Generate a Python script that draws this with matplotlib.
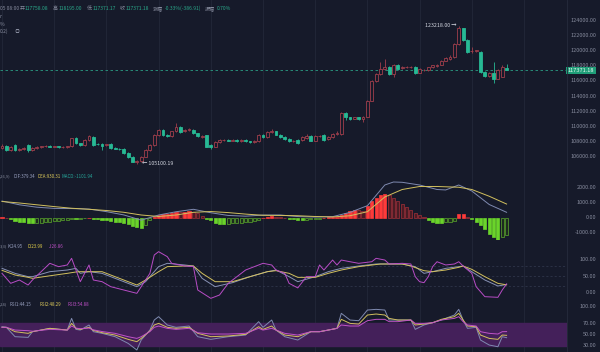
import numpy as np
import matplotlib.pyplot as plt
from matplotlib.patches import Rectangle
from matplotlib.lines import Line2D

plt.rcParams['font.family'] = ['Noto Sans CJK SC', 'DejaVu Sans']

# ---- candles ----
opens = [107200, 107500, 106950, 107600, 106900, 107000, 107550, 106950, 107150, 107300,
         107400, 107500, 107350, 107400, 107250, 107300, 107400, 108450, 107800, 107600,
         108200, 108600, 107750, 107700, 107600, 107700, 107200, 107100, 107100, 106500,
         106000, 105400, 105500, 106050, 106900, 107600, 108900, 109550, 108900, 108700,
         109350, 109980, 109400, 109550, 109600, 109100, 108650, 108850, 107550, 107350,
         108000, 108200, 108200, 108150, 108250, 108100, 108200, 108050, 108000, 108100,
         108900, 108600, 109300, 109350, 108950, 108650, 108400, 108100, 108200, 108230,
         108500, 108760, 108150, 108760, 108900, 108300, 108600, 109020, 109020, 111736,
         111210, 111030, 111210, 110950, 111300, 113400, 116030, 116860, 117560, 117870,
         116860, 118090, 117650, 117780, 117800, 117870, 117080, 117430, 117430, 117780,
         117960, 118130, 118660, 118830, 119090, 120840, 122900, 121400, 119900, 119970,
         119840, 117200, 116640, 117000, 116300, 116550, 117758.08]
closes = [107450, 106950, 107300, 106900, 107000, 107150, 106900, 107150, 107300, 107400,
          107450, 107350, 107400, 107250, 107300, 107400, 108450, 107800, 107600, 108200,
          108700, 107600, 107650, 107500, 107650, 107150, 107100, 107050, 106500, 106000,
          105400, 105500, 106050, 106900, 107600, 108900, 109550, 108900, 108700, 109350,
          109980, 109300, 109600, 109650, 109100, 108700, 108750, 107350, 107350, 108000,
          108200, 108250, 108150, 108250, 108100, 108200, 108050, 108000, 108100, 108900,
          108600, 109300, 109350, 108950, 108650, 108350, 108100, 108150, 107800, 108670,
          108700, 108150, 108760, 108800, 108230, 108600, 109020, 109100, 111736, 111210,
          111030, 111210, 110950, 111210, 113400, 116030, 116860, 117560, 117780, 116860,
          118090, 117560, 117780, 117800, 117870, 117080, 117560, 117480, 117780, 118040,
          118130, 118660, 118960, 119180, 120840, 122900, 121400, 119840, 119970, 119990,
          117200, 116640, 117080, 116300, 117450, 117780, 117371.18]
highs = [107650, 107600, 107400, 107700, 107150, 107250, 107700, 107250, 107400, 107500,
         107550, 107600, 107500, 107500, 107400, 107500, 108550, 108600, 107900, 108300,
         108950, 108700, 107850, 107800, 107750, 107800, 107300, 107200, 107200, 106600,
         106100, 105650, 106150, 107000, 107700, 109000, 109650, 109650, 109000, 109450,
         110420, 110100, 109700, 109800, 109700, 109200, 108850, 108950, 107650, 108100,
         108300, 108350, 108300, 108350, 108350, 108300, 108300, 108150, 108200, 109000,
         109000, 109400, 109700, 109450, 109050, 108750, 108500, 108250, 108300, 108800,
         109000, 108850, 108850, 108950, 109000, 108700, 109100, 109350, 111900, 111850,
         111300, 111300, 111300, 111350, 113500, 116150, 117000, 118520, 118830, 117950,
         118200, 118200, 117900, 117900, 117950, 117950, 117650, 117600, 117850, 118150,
         118250, 118800, 119150, 119400, 120950, 123218.00, 122950, 121550, 120500, 120100,
         119950, 117300, 117200, 118440, 117550, 118100, 118195.00]
lows = [107050, 106850, 106800, 106750, 106800, 106900, 106700, 106850, 107050, 107200,
        107300, 107250, 107250, 107150, 107150, 107200, 107300, 107700, 107500, 107500,
        108100, 107500, 107550, 106900, 107500, 107050, 107000, 106950, 106400, 105900,
        105300, 105100.19, 105400, 105950, 106800, 107500, 108800, 108800, 108600, 108600,
        109250, 109200, 109300, 109450, 109000, 108600, 108550, 107250, 107100, 107250,
        107900, 108100, 108050, 108050, 108000, 108000, 107950, 107900, 107900, 108000,
        108500, 108500, 109200, 108850, 108550, 108250, 108000, 108000, 107700, 108100,
        108400, 108050, 108050, 108650, 108150, 108200, 108500, 108900, 108950, 110800,
        110900, 110950, 110850, 110640, 111200, 113300, 115900, 116750, 117450, 116750,
        116550, 117450, 117550, 117700, 117700, 116950, 116980, 117350, 117350, 117700,
        117850, 118050, 118550, 118750, 118950, 120750, 121300, 119700, 119600, 119850,
        117100, 116500, 116550, 115770, 116200, 116450, 117371.17]

# ---- MACD (12,26,9) ----
macd_hist = [60, 30, -80, -180, -250, -300, -330, -350, -330, -310,
             -290, -260, -230, -200, -160, -110, -40, -60, -40, -20,
             30, -50, -90, -120, -150, -200, -240, -290, -350, -430,
             -520, -620, -690, -450, -150, 60, 200, 260, 290, 350,
             430, 380, 420, 470, 400, 300, 150, -40, -160, -310,
             -380, -400, -380, -360, -340, -310, -280, -250, -200, -140,
             30, 80, 110, 90, 60, 20, -40, -80, -110, -130,
             -120, -100, -70, -40, 30, 40, 40, 60, 200, 350,
             450, 530, 500, 470, 800, 1100, 1350, 1550, 1620, 1500,
             1350, 1150, 950, 750, 550, 350, 180, 60, -150, -250,
             -330, -350, -300, -270, -230, 250, 280, 90, -100, -250,
             -500, -750, -1050, -1300, -1470, -1300, -1101.94]
macd_x = [0, 4, 8, 12, 16, 20, 24, 28, 32, 36, 40, 44, 48, 52, 56, 60, 64, 68,
          72, 76, 80, 84, 88, 90, 92, 96, 100, 102, 105, 108, 112, 116]
dif = [1130, 880, 720, 640, 630, 595, 425, 205, -145, 200, 415, 580, 350, 170, 120, 195, 200, 95,
       65, 90, 375, 820, 2200, 2400, 2380, 2200, 1900, 1870, 2200, 1800, 900, 379.34]
dea = [1100, 1000, 880, 760, 650, 580, 500, 380, 200, 100, 200, 380, 430, 360, 260, 180, 170, 150,
       100, 70, 150, 420, 1400, 1650, 1900, 2100, 2100, 2080, 2050, 1900, 1450, 930.31]

# ---- KDJ (9,3,3) ----
k_x = [0, 3, 6, 7, 11, 15, 17, 18, 20, 23, 27, 31, 33, 36, 38, 42, 44, 46, 49, 53, 57, 61, 63, 66,
       68, 72, 75, 78, 82, 86, 92, 95, 97, 99, 102, 105, 106, 108, 111, 114, 116]
k_val = [72.5, 57.8, 48, 48, 62.7, 67.6, 72.5, 57.8, 62.7, 57.8, 38.2, 18.6, 33.3, 77.5, 87.3,
         82.4, 79.4, 43.1, 18.6, 30.4, 48, 62.7, 67.6, 48, 33.3, 48, 62.7, 72.5, 79.4, 85.3, 85.3,
         77.5, 57.8, 62.7, 72.5, 77.5, 79.4, 62.7, 38.2, 20.6, 24.95]
d_x = [0, 3, 6, 7, 11, 15, 17, 18, 20, 23, 27, 31, 33, 36, 38, 42, 44, 46, 49, 53, 57, 61, 63, 66,
       68, 72, 75, 78, 82, 87, 92, 94, 97, 99, 102, 105, 106, 108, 111, 114, 116]
d_val = [66.7, 52.9, 46.1, 43.1, 50.6, 57.8, 61.8, 62.7, 62.7, 62.7, 43.1, 23.5, 38.2, 62.7, 77.5,
         79.4, 79.4, 57.8, 33.3, 33.3, 48, 62.7, 65.7, 57.8, 46, 46, 57.8, 67.6, 77.5, 85.3, 85.3,
         79.4, 65.7, 62.7, 67.6, 75.5, 79.4, 69.6, 48, 28.4, 23.99]
j_x = [0, 2, 4, 6, 7, 11, 13, 15, 16, 17, 18, 20, 21, 23, 25, 28, 31, 32, 34, 35, 36, 38, 39,
       42, 44, 45, 48, 50, 52, 53, 56, 60, 62, 63, 65, 66, 68, 70, 72, 73, 74, 76, 77, 78, 80,
       82, 85, 86, 88, 89, 92, 94, 95, 96, 97, 98, 99, 100, 102, 104, 105, 106, 108, 109, 111,
       114, 115, 116]
j_val = [57.8, 28.4, 38.2, 23.5, 38.2, 87.3, 77.5, 82.4, 102, 67.6, 33.3, 82.4, 38.2, 33.3, 18.6,
         8.8, -1, 18.6, 57.8, 111.8, 121.6, 106.9, 87.3, 79.4, 77.5, 8.8, -15.7, -5.9, 28.4, 38.2,
         67.6, 87.3, 82.4, 67.6, 57.8, 28.4, 15, 48, 48, 82.4, 67.6, 97, 82.4, 97, 92,
         87.3, 92, 102, 97, 85.3, 87.3, 85.3, 48, 33.3, 30.4, 48, 77.5, 92, 82.4, 85.3, 92, 79.4,
         57.8, 18.6, -10.8, -12.7, 8.8, 26.86]

# ---- RSI (6,12,24) ----
rsi_x = [0, 1, 3, 6, 7, 11, 15, 16, 17, 18, 20, 21, 23, 26, 29, 31, 32, 34, 35, 36, 38, 40, 43,
         45, 48, 52, 56, 59, 60, 62, 63, 65, 68, 71, 73, 75, 77, 78, 80, 82, 84, 86, 88, 89, 91,
         94, 95, 97, 99, 101, 104, 105, 106, 107, 109, 110, 112, 114, 115, 116]
rsi1 = [63.5, 62.4, 45.9, 44.7, 54.7, 60.6, 57.6, 78.2, 58.8, 57.6, 66.5, 54.7, 51.8, 45.9, 34.1,
        22.4, 40, 57.6, 75.3, 81.2, 66.5, 62.4, 64.7, 45.9, 41.2, 45.9, 48.8, 72.4, 62.4, 75.3,
        57.6, 45.9, 40, 54.7, 54.7, 57.6, 60.6, 87.1, 75.3, 74.1, 92.9, 94.1, 92.9, 75.3, 75.3,
        75.3, 58.8, 66.5, 70.6, 75.3, 84.1, 94.1, 75.3, 60.6, 62.4, 40, 31.2, 28.2, 45.9, 44.15]
rsi2 = [62.4, 62.4, 54.7, 51.8, 54.7, 60.6, 57.6, 69.4, 60.6, 58.8, 62.4, 57, 53, 48.8, 41.2,
        37.1, 42.9, 56, 66.5, 69.4, 62.4, 60.6, 62.4, 51.8, 45.9, 47.1, 50, 63.5, 58.8, 64.7,
        57.6, 48.8, 45.9, 54.7, 54.7, 57.6, 60.6, 76.5, 69.4, 68.2, 84.1, 85.9, 84.1, 78.2, 75.3,
        75.3, 66.5, 68.2, 70.6, 76.5, 81.2, 87.1, 75.3, 64.7, 63.5, 48.8, 42.9, 41.2, 48.8, 48.29]
rsi3 = [62.4, 62.4, 57.6, 56.5, 55.5, 58.8, 57.6, 64.7, 61, 60, 61, 58, 55, 51.8, 45.9,
        42.9, 45.9, 55, 62.4, 64.7, 60.6, 58.8, 60.6, 52.9, 50.6, 50.6, 51.8, 60.6, 57.6, 60.6,
        57.6, 51.8, 48.8, 54.7, 54.7, 57.6, 60.6, 66.5, 64.7, 64.7, 74.1, 76.5, 76.5, 72.4, 72.4,
        75.3, 69.4, 69.4, 70.6, 75.3, 78.2, 81.2, 72.4, 66.5, 64.7, 54.7, 51.8, 50.6, 54.7, 54.88]

price_ticks = [124000, 122000, 120000, 118000, 116000, 114000, 112000, 110000, 108000, 106000]
macd_ticks = [2000, 1000, 0, -1000]
kdj_ticks = [100, 50, 0]
rsi_ticks = [100, 70, 50, 30]
last_price = 117371.18
hi_idx, hi_val = 105, 123218.00
lo_idx, lo_val = 31, 105100.19

bg = '#161a2a'
grid_c = '#232839'
txt_c = '#858a9c'
up_c = '#a03f4c'
dn_c = '#27b994'
W, H = 600, 352
PLOT_R = 567

fig = plt.figure(figsize=(6, 3.52), dpi=100, facecolor=bg)


def panel(top, bottom, ylim):
    ax = fig.add_axes([0, 1 - bottom / H, PLOT_R / W, (bottom - top) / H])
    ax.set_facecolor(bg)
    for s in ax.spines.values():
        s.set_visible(False)
    ax.set_xticks([])
    ax.set_yticks([])
    ax.set_xlim(-0.46, (PLOT_R - 2) / 4.35)
    ax.set_ylim(*ylim)
    for g in range(0, 130, 12):
        ax.axvline(g, color=grid_c, lw=0.6, zorder=0)
    return ax


def right_labels(ax, vals):
    for v in vals:
        ax.text(596 / PLOT_R, v, f'{v:.2f}', transform=ax.get_yaxis_transform(),
                ha='right', va='center', fontsize=4.0, color=txt_c, clip_on=False)


def ftxt(x, y, s, color=txt_c, size=3.6, **kw):
    fig.text(x / W, 1 - y / H, s, color=color, fontsize=size, va='center', ha='left', **kw)


# ---- price panel ----
ax = panel(0, 168, (104553, 126628))
for i in range(len(opens)):
    o, c, h, l = opens[i], closes[i], highs[i], lows[i]
    col = up_c if c > o else dn_c
    ax.vlines(i, l, h, color=col, lw=0.6, zorder=2)
    b = min(o, c)
    hgt = max(abs(c - o), 45)
    face = bg if c > o else col
    ax.add_patch(Rectangle((i - 0.33, b), 0.66, hgt, facecolor=face, edgecolor=col,
                           lw=0.6, zorder=3))
ax.axhline(last_price, color='#2a9d84', lw=0.6, ls=(0, (3, 3)), zorder=1)
ax.text(hi_idx - 0.6, hi_val, f'{hi_val:.2f} →', ha='right', va='center',
        fontsize=3.8, color='#d6d9e3')
ax.text(lo_idx + 1.2, lo_val, f'← {lo_val:.2f}', ha='left', va='center',
        fontsize=3.8, color='#d6d9e3')
right_labels(ax, price_ticks)
ax.text(1.0015, last_price, f'{last_price:.2f}', transform=ax.get_yaxis_transform(),
        ha='left', va='center', fontsize=4.0, color='#eaf6f1', clip_on=False,
        bbox=dict(boxstyle='square,pad=0.25', fc='#1f9e78', ec='none'))

# ---- MACD panel ----
ax2 = panel(168, 240, (-1467, 3333))
for i, v in enumerate(macd_hist):
    prev = macd_hist[i - 1] if i else v
    if v >= 0:
        face, edge = ('#ff3a3a', '#ff3a3a') if v >= prev else ('#4a1c24', '#a3303a')
    else:
        face, edge = ('#6ad42a', '#6ad42a') if v <= prev else ('#1d2a1f', '#5caa2c')
    ax2.add_patch(Rectangle((i - 0.36, min(0, v)), 0.72, abs(v), facecolor=face,
                            edgecolor=edge, lw=0.5, zorder=2))
ax2.plot(macd_x, dif, color='#7f8ab0', lw=0.7, zorder=3)
ax2.plot(macd_x, dea, color='#d2c05e', lw=0.7, zorder=3)
right_labels(ax2, macd_ticks)

# ---- KDJ panel ----
ax3 = panel(240, 300, (-20.6, 155.9))
for lv in (80, 50, 20):
    ax3.axhline(lv, color='#343a50', lw=0.5, ls=(0, (3, 3)), zorder=1)
ax3.plot(k_x, k_val, color='#8892b6', lw=0.7, zorder=3)
ax3.plot(d_x, d_val, color='#d2c05e', lw=0.7, zorder=3)
ax3.plot(j_x, j_val, color='#b84cc6', lw=0.7, zorder=3)
right_labels(ax3, kdj_ticks)

# ---- RSI panel ----
ax4 = panel(300, 352, (18.9, 110.6))
ax4.axhspan(30, 70, color='#44205a', zorder=1)
ax4.plot(rsi_x, rsi1, color='#7f8ab0', lw=0.7, zorder=3)
ax4.plot(rsi_x, rsi2, color='#d2c05e', lw=0.7, zorder=3)
ax4.plot(rsi_x, rsi3, color='#c052c8', lw=0.7, zorder=3)
right_labels(ax4, rsi_ticks)

# separator between plot area and price scale
fig.add_artist(Line2D([PLOT_R / W] * 2, [0, 1], color='#262b3d', lw=0.6))

# ---- header / legends ----
green = '#2aa88a'
ftxt(0, 8.3, '05 08:00')
ftxt(20, 8.3, '开')
ftxt(25, 8.3, '117758.08', green)
ftxt(53, 8.3, '高')
ftxt(59, 8.3, '118195.00', green)
ftxt(87, 8.3, '低')
ftxt(93, 8.3, '117371.17', green)
ftxt(120, 8.3, '收')
ftxt(126, 8.3, '117371.18', green)
ftxt(153, 8.3, '涨幅')
ftxt(165, 8.3, '-0.33%(-386.91)', green)
ftxt(205, 8.3, '振幅')
ftxt(217, 8.3, '0.70%', green)
ftxt(0, 16.7, 'r')
ftxt(0, 24, '%')
ftxt(0, 31.7, '0.2)')
ftxt(15, 31.7, '◎')

ftxt(0, 176, ',26,9)', size=3.0)
ftxt(13, 176, 'DIF:379.34', '#9aa2c2', size=3.2)
ftxt(38, 176, 'DEA:930.31', '#e0cd5c', size=3.2)
ftxt(62, 176, 'MACD:-1101.94', '#26a69a', size=3.2)

ftxt(0, 246, '3,3)', size=3.0)
ftxt(8, 246, 'K:24.95', '#9aa2c2', size=3.2)
ftxt(28, 246, 'D:23.99', '#e8d44a', size=3.2)
ftxt(49, 246, 'J:26.86', '#c050c8', size=3.2)

ftxt(0, 304, ',24)', size=3.0)
ftxt(9, 304, 'RSI1:44.15', '#9aa2c2', size=3.2)
ftxt(39, 304, 'RSI2:48.29', '#e0cd5c', size=3.2)
ftxt(67, 304, 'RSI3:54.88', '#c050c8', size=3.2)

fig.savefig('out.png', dpi=100, facecolor=bg)
